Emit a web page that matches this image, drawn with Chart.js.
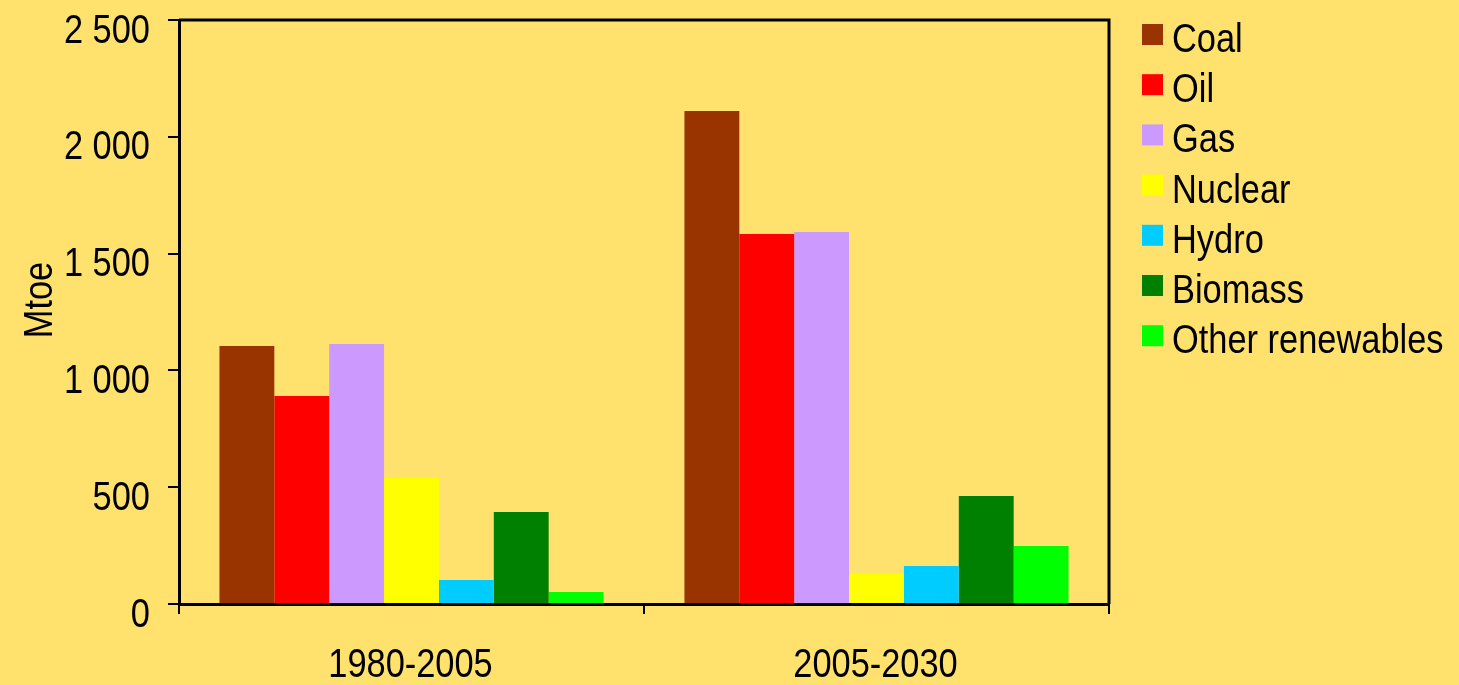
<!DOCTYPE html>
<html>
<head>
<meta charset="utf-8">
<script src="https://cdn.jsdelivr.net/npm/chart.js@4.4.1/dist/chart.umd.min.js"></script>
<style>
  html, body { margin: 0; padding: 0; background: #FFE16E; }
  #wrap { position: relative; width: 1459px; height: 685px; }
</style>
</head>
<body>
<div id="wrap"><canvas id="energyChart"></canvas></div>
<script>
// periods on the x axis
const periods = ['1980-2005', '2005-2030'];

// increase in demand per fuel, Mtoe
const coal = [1104, 2110];
const oil = [890, 1584];
const gas = [1113, 1592];
const nuclear = [539, 128];
const hydro = [103, 163];
const biomass = [394, 462];
const otherRenewables = [51, 248];

const yTicks = [0, 500, 1000, 1500, 2000, 2500];

const FONT = "40px 'Liberation Sans', Arial, sans-serif";
const NARROW = 0.86; // squeeze text horizontally to get a narrow face

function withSpaces(v) {
    return String(v).replace(/\B(?=(\d{3})+(?!\d))/g, ' ');
}

function narrowText(ctx, text, x, y, align, angle) {
    ctx.save();
    ctx.translate(x, y);
    if (angle) ctx.rotate(angle);
    ctx.scale(NARROW, 1);
    ctx.font = FONT;
    ctx.fillStyle = '#000';
    ctx.textAlign = align;
    ctx.textBaseline = 'alphabetic';
    ctx.fillText(text, 0, 0);
    ctx.restore();
}

// frame around the plot (top and right side)
const frame = {
    id: 'frame',
    afterDatasetsDraw(chart) {
        const a = chart.chartArea;
        const ctx = chart.ctx;
        ctx.save();
        ctx.strokeStyle = '#000';
        ctx.lineWidth = 3;
        ctx.beginPath();
        ctx.moveTo(a.left, a.top);
        ctx.lineTo(a.right, a.top);
        ctx.lineTo(a.right, a.bottom);
        ctx.stroke();
        ctx.restore();
    }
};

// axis labels, axis title and the legend, all in narrow text
const labelsAndLegend = {
    id: 'labelsAndLegend',
    afterDraw(chart) {
        const ctx = chart.ctx;
        const xs = chart.scales.x;
        const ys = chart.scales.y;

        yTicks.forEach(v => {
            narrowText(ctx, withSpaces(v), 150, ys.getPixelForValue(v) + 22.5, 'right');
        });
        periods.forEach((p, i) => {
            narrowText(ctx, p, xs.getPixelForValue(i) - 1, 677, 'center');
        });
        narrowText(ctx, 'Mtoe', 52, (chart.chartArea.top + chart.chartArea.bottom) / 2 - 12, 'center', -Math.PI / 2);

        chart.data.datasets.forEach((ds, i) => {
            const top = 24 + i * 50.2;
            ctx.fillStyle = ds.backgroundColor;
            ctx.fillRect(1142, top, 21, 21);
            narrowText(ctx, ds.label, 1172, top + 28, 'left');
        });
    }
};

const canvas = document.getElementById('energyChart');

new Chart(canvas, {
    type: 'bar',
    data: {
        labels: periods,
        datasets: [
            { label: 'Coal', data: coal, backgroundColor: '#993300' },
            { label: 'Oil', data: oil, backgroundColor: '#FF0000' },
            { label: 'Gas', data: gas, backgroundColor: '#CC99FF' },
            { label: 'Nuclear', data: nuclear, backgroundColor: '#FFFF00' },
            { label: 'Hydro', data: hydro, backgroundColor: '#00CCFF' },
            { label: 'Biomass', data: biomass, backgroundColor: '#008000' },
            { label: 'Other renewables', data: otherRenewables, backgroundColor: '#00FF00' }
        ]
    },
    options: {
        responsive: true,
        maintainAspectRatio: false,
        animation: false,
        datasets: {
            bar: { categoryPercentage: 0.826, barPercentage: 1.0 }
        },
        layout: {
            padding: { left: 0, top: 20, right: 350, bottom: 0 }
        },
        plugins: {
            legend: { display: false },
            tooltip: { enabled: false }
        },
        scales: {
            x: {
                grid: {
                    offset: true,
                    drawOnChartArea: false,
                    drawTicks: true,
                    tickLength: 10,
                    tickColor: '#000',
                    lineWidth: 2
                },
                border: { display: true, color: '#000', width: 3 },
                ticks: { display: false },
                afterFit(scale) { scale.height = 81; }
            },
            y: {
                min: 0,
                max: 2500,
                afterBuildTicks(scale) {
                    scale.ticks = yTicks.map(v => ({ value: v }));
                },
                grid: {
                    drawOnChartArea: false,
                    drawTicks: true,
                    tickLength: 11,
                    tickColor: '#000',
                    lineWidth: 2
                },
                border: { display: true, color: '#000', width: 3 },
                ticks: { display: false },
                afterFit(scale) { scale.width = 179; }
            }
        }
    },
    plugins: [frame, labelsAndLegend]
});
</script>
</body>
</html>
